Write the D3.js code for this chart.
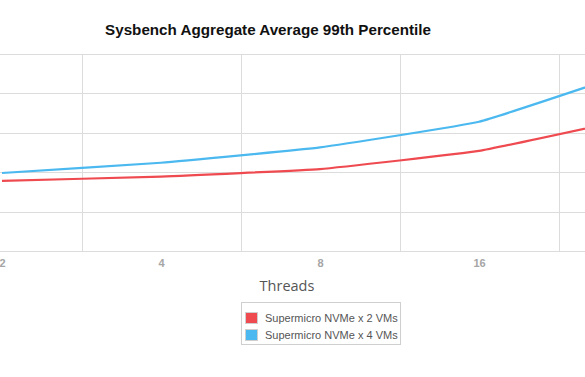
<!DOCTYPE html>
<html lang="en">
<head>
    <meta charset="UTF-8">
    <title>Sysbench Aggregate Average 99th Percentile</title>
    <script type="text/javascript" src="https://d3js.org/d3.v7.min.js"></script>
    <style>
        body { margin: 0; background: #fff; }
    </style>
</head>
<body>
    <script type="text/javascript">
       var threads = ["2", "4", "8", "16", "32"];
       var nvme2 = [17.8, 18.9, 20.8, 25.4, 34];
       var nvme4 = [19.8, 22.4, 26.3, 32.8, 46];
       var seriesNames = ["Supermicro NVMe x 2 VMs", "Supermicro NVMe x 4 VMs"];
       var seriesColors = ["#ee4a50", "#4bb9ef"];
       var yTicks = [0, 10, 20, 30, 40, 50];

       var width = 585, height = 377;
       var plotTop = 54, plotBottom = 251;
       var step = 159;

       var svg = d3.select("body")
                   .append("svg")
                   .attr("width", width)
                   .attr("height", height);

       svg.append("text")
          .attr("x", 268).attr("y", 35)
          .attr("text-anchor", "middle")
          .style("font-family", "Liberation Sans, Arial, sans-serif")
          .style("font-weight", "bold")
          .style("font-size", "15.2px")
          .style("fill", "#111")
          .text("Sysbench Aggregate Average 99th Percentile");

       var xScale = d3.scalePoint()
                      .domain(threads)
                      .range([2, 2 + step * (threads.length - 1)]);

       var yScale = d3.scaleLinear()
                      .domain([0, 50])
                      .range([plotBottom, plotTop]);

       // horizontal grid
       svg.append("g").selectAll("line").data(yTicks).enter()
          .append("line")
          .attr("x1", 0).attr("x2", width)
          .attr("y1", function(d){ return Math.round(yScale(d)) + 0.5; })
          .attr("y2", function(d){ return Math.round(yScale(d)) + 0.5; })
          .attr("stroke", "#dcdcdc")
          .attr("stroke-width", 1);

       // vertical grid sits between categories
       svg.append("g").selectAll("line").data(threads).enter()
          .append("line")
          .attr("x1", function(d){ return Math.round(xScale(d) + step / 2) + 0.5; })
          .attr("x2", function(d){ return Math.round(xScale(d) + step / 2) + 0.5; })
          .attr("y1", plotTop).attr("y2", plotBottom)
          .attr("stroke", "#dcdcdc")
          .attr("stroke-width", 1);

       // only the labels that fall inside the window are shown
       var xAxis = d3.axisBottom(xScale)
                     .tickValues(threads.filter(function(d){ return xScale(d) < width - 10; }))
                     .tickSize(0).tickPadding(8);
       var xAxisGroup = svg.append("g")
                           .attr("transform", "translate(0," + (plotBottom + 0.5) + ")")
                           .call(xAxis);
       xAxisGroup.select(".domain").remove();
       xAxisGroup.selectAll("text")
                 .style("font-family", "Liberation Sans, Arial, sans-serif")
                 .style("font-size", "11px")
                 .style("font-weight", "bold")
                 .style("fill", "#a5a5a5");

       svg.append("text")
          .attr("x", 287).attr("y", 291)
          .attr("text-anchor", "middle")
          .style("font-family", "Open Sans, sans-serif")
          .style("font-size", "14.5px")
          .style("fill", "#555")
          .text("Threads");

       var line = d3.line()
                    .x(function(d, i){ return xScale(threads[i]); })
                    .y(function(d){ return yScale(d); })
                    .curve(d3.curveCardinal.tension(0.7));

       [nvme2, nvme4].forEach(function(vals, k){
           svg.append("path")
              .datum(vals)
              .attr("d", line)
              .attr("fill", "none")
              .attr("stroke", seriesColors[k])
              .attr("stroke-width", 2.2);
       });

       // legend
       var legend = svg.append("g");
       legend.append("rect")
             .attr("x", 241.5).attr("y", 302.5)
             .attr("width", 159).attr("height", 42)
             .attr("fill", "#fff")
             .attr("stroke", "#cfcfcf");
       seriesNames.forEach(function(name, k){
           legend.append("rect")
                 .attr("x", 245.5).attr("y", 312.5 + k * 17)
                 .attr("width", 12).attr("height", 11)
                 .attr("fill", seriesColors[k])
                 .attr("stroke", "#cfcfcf");
           legend.append("text")
                 .attr("x", 265).attr("y", 322 + k * 17)
                 .style("font-family", "Liberation Sans, Arial, sans-serif")
                 .style("font-size", "11px")
                 .style("fill", "#555")
                 .text(name);
       });
    </script>
</body>
</html>
